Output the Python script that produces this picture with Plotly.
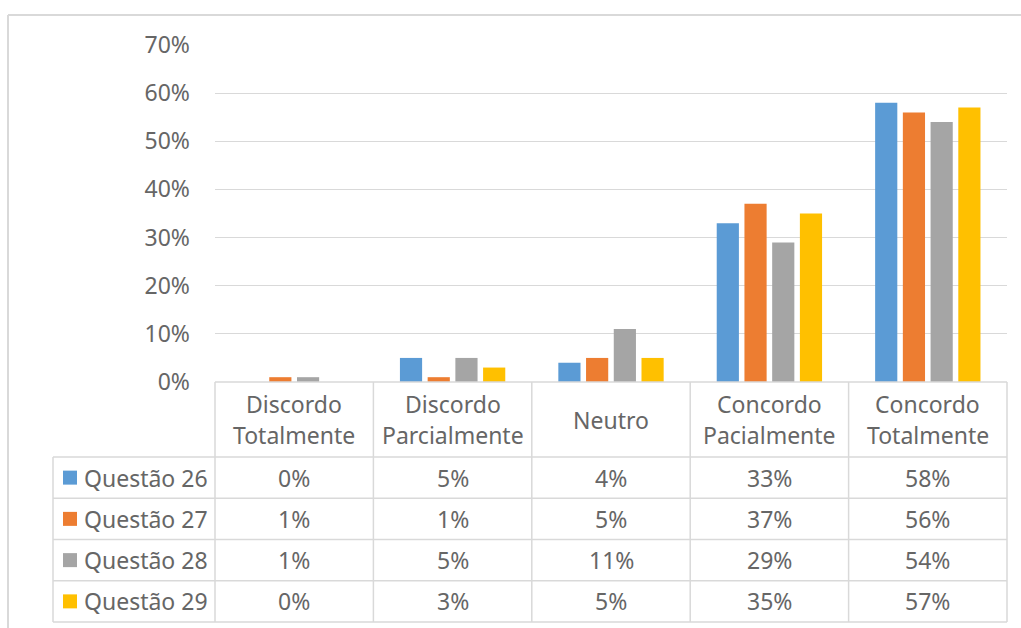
import plotly.graph_objects as go

# Survey answers per question (share of respondents)
categories = ["Discordo Totalmente", "Discordo Parcialmente", "Neutro",
              "Concordo Pacialmente", "Concordo Totalmente"]
series_names = ["Questão 26", "Questão 27", "Questão 28", "Questão 29"]
q26 = [0.00, 0.05, 0.04, 0.33, 0.58]
q27 = [0.01, 0.01, 0.05, 0.37, 0.56]
q28 = [0.01, 0.05, 0.11, 0.29, 0.54]
q29 = [0.00, 0.03, 0.05, 0.35, 0.57]
series_values = [q26, q27, q28, q29]
colors = ["#5B9BD5", "#ED7D31", "#A5A5A5", "#FFC000"]
y_ticks = [0, 0.1, 0.2, 0.3, 0.4, 0.5, 0.6, 0.7]

W, H = 1021, 628
TEXT = "#666666"
GRID = "#D9D9D9"
FONT = "Noto Sans"
FS = 23


def px(x):
    return x / W


def py(y):
    return 1 - y / H


# plot area / table geometry (pixels)
left, right = 215, 1007
top, base = 45, 382
header_bottom = 457
row_h = (622 - header_bottom) / 4
legend_left = 53
ncat = len(categories)
col_w = (right - left) / ncat

fig = go.Figure()
for name, vals, c in zip(series_names, series_values, colors):
    fig.add_trace(go.Bar(x=categories, y=vals, name=name, marker_color=c,
                         marker_line_width=0, showlegend=False))

shapes = []
annotations = []

# outer chart frame (left and top edges visible)
shapes.append(dict(type="line", xref="paper", yref="paper",
                   x0=px(8), x1=px(8), y0=py(15), y1=-0.05,
                   line=dict(color=GRID, width=2)))
shapes.append(dict(type="line", xref="paper", yref="paper",
                   x0=px(8), x1=1.05, y0=py(15), y1=py(15),
                   line=dict(color=GRID, width=2)))

# table grid
line_style = dict(color=GRID, width=1.5)
shapes.append(dict(type="line", xref="paper", yref="paper",
                   x0=px(left), x1=px(right), y0=py(base), y1=py(base), line=line_style))
for i in range(5):
    y = header_bottom + i * row_h
    shapes.append(dict(type="line", xref="paper", yref="paper",
                       x0=px(legend_left), x1=px(right), y0=py(y), y1=py(y), line=line_style))
for i in range(ncat + 1):
    x = left + i * col_w
    shapes.append(dict(type="line", xref="paper", yref="paper",
                       x0=px(x), x1=px(x), y0=py(base), y1=py(622), line=line_style))
shapes.append(dict(type="line", xref="paper", yref="paper",
                   x0=px(legend_left), x1=px(legend_left), y0=py(header_bottom), y1=py(622),
                   line=line_style))

# header labels
for i, cat in enumerate(categories):
    cx = left + (i + 0.5) * col_w
    words = cat.split(" ")
    if len(words) == 1:
        ys = [(base + header_bottom) / 2]
    else:
        ys = [404, 435]
    for w, yy in zip(words, ys):
        annotations.append(dict(x=px(cx), y=py(yy), xref="paper", yref="paper",
                                text=w, showarrow=False, xanchor="center", yanchor="middle",
                                font=dict(family=FONT, size=FS, color=TEXT)))

# data rows with legend keys
for r, (name, vals, c) in enumerate(zip(series_names, series_values, colors)):
    cy = header_bottom + (r + 0.5) * row_h
    shapes.append(dict(type="rect", xref="paper", yref="paper",
                       x0=px(63), x1=px(77), y0=py(cy - 7), y1=py(cy + 7),
                       fillcolor=c, line=dict(width=0)))
    annotations.append(dict(x=px(82), y=py(cy), xref="paper", yref="paper",
                            text=name, showarrow=False, xanchor="left", yanchor="middle",
                            font=dict(family=FONT, size=FS, color=TEXT)))
    for i, v in enumerate(vals):
        cx = left + (i + 0.5) * col_w
        annotations.append(dict(x=px(cx), y=py(cy), xref="paper", yref="paper",
                                text=f"{round(v * 100)}%", showarrow=False,
                                xanchor="center", yanchor="middle",
                                font=dict(family=FONT, size=FS, color=TEXT)))

fig.update_layout(
    template="none",
    width=W, height=H,
    margin=dict(l=0, r=0, t=0, b=0, pad=0, autoexpand=False),
    paper_bgcolor="white", plot_bgcolor="white",
    barmode="group", bargap=0.30, bargroupgap=0.2,
    xaxis=dict(domain=[px(left), px(right)], showticklabels=False, automargin=False,
               showgrid=False, zeroline=False, showline=False, fixedrange=True),
    yaxis=dict(domain=[py(base), py(top)], range=[0, 0.7], automargin=False,
               tickvals=y_ticks, ticktext=[f"{round(t * 100)}%" for t in y_ticks],
               showgrid=True, gridcolor=GRID, gridwidth=1, zeroline=False,
               showline=False, ticks="", ticklabelstandoff=24,
               tickfont=dict(family=FONT, size=FS, color=TEXT)),
    shapes=shapes,
    annotations=annotations,
)

fig.write_html("out.html")
